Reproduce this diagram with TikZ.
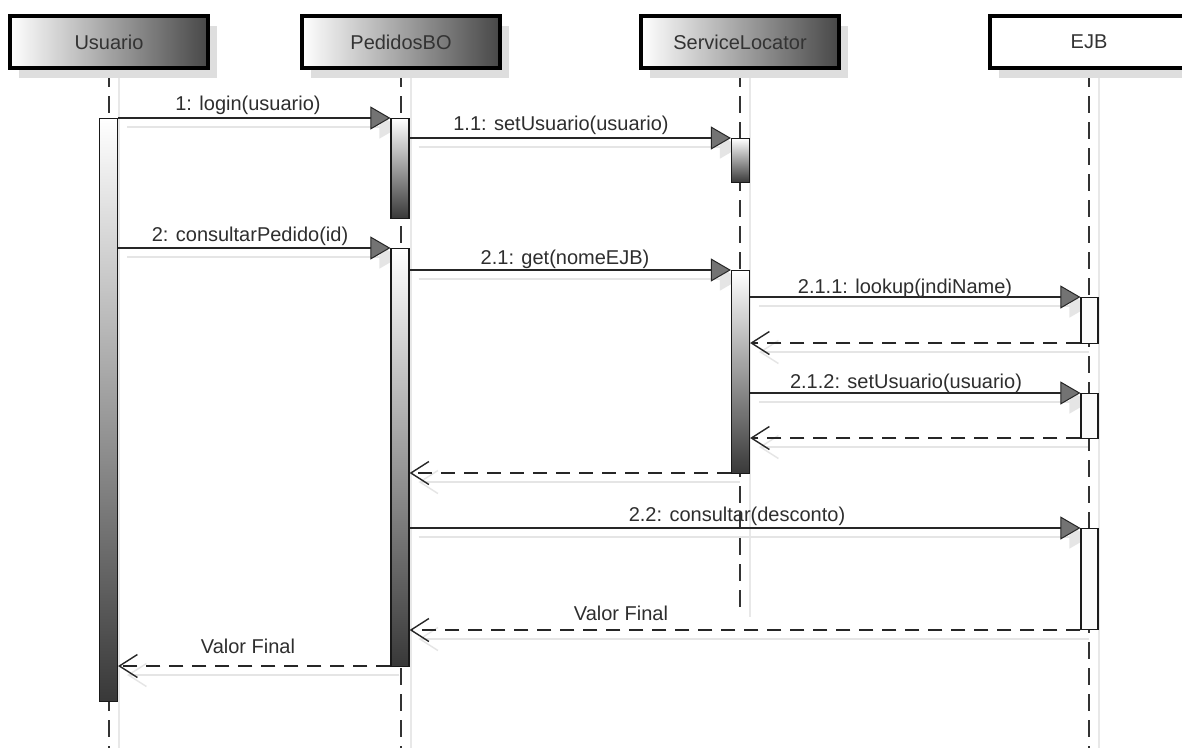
\documentclass[tikz,border=0pt]{standalone}
\usepackage{fontspec}
\setmainfont{Liberation Sans}
\usetikzlibrary{arrows.meta,shadows}
\pgfdeclarelayer{bgone}
\pgfdeclarelayer{bgtwo}
\pgfsetlayers{bgone,bgtwo,main}
\tikzset{
  lbl/.style={font=\fontsize{20}{24}\selectfont, text=black!82, inner sep=0pt, anchor=base},
  headbox/.style={draw=black, line width=4pt, minimum width=198pt, minimum height=52pt, inner sep=0pt,
    font=\fontsize{20}{24}\selectfont, text=black!80,
    drop shadow={shadow xshift=9pt, shadow yshift=-10pt, fill=black!13, opacity=1}},
  gradhead/.style={headbox, left color=white, right color=black!72},
  plainhead/.style={headbox, fill=white},
  lifeline/.style={draw=black!80, line width=1.6pt, dash pattern=on 17pt off 9pt},
  lifeshadow/.style={draw=black!9, line width=1.2pt, transform canvas={shift={(10pt,0pt)}}},
  actbar/.style={draw=black!90, line width=1.2pt, minimum width=18pt, inner sep=0pt, anchor=north,
    top color=white, bottom color=black!78},
  actwhite/.style={draw=black!90, line width=1.2pt, minimum width=17pt, inner sep=0pt, anchor=north, fill=black!2},
  callline/.style={draw=black!85, line width=1.4pt,
    -{Triangle[length=20pt,width=23pt,fill=black!55,line width=1pt]}},
  retline/.style={draw=black!85, line width=1.4pt, dash pattern=on 14pt off 9pt,
    -{Straight Barb[length=18pt,width=23pt,line width=1.4pt]}},
  callshadow/.style={draw=black!10, line width=1.4pt,
    -{Triangle[length=20pt,width=23pt,fill=black!10]}, transform canvas={shift={(9pt,-9pt)}}},
  retshadow/.style={draw=black!10, line width=1.4pt,
    -{Straight Barb[length=18pt,width=23pt]}, transform canvas={shift={(9pt,-9pt)}}},
}
\newcommand\callmsg[3]{%
  \begin{pgfonlayer}{bgone}\draw[callshadow] (#1 |- 0,#3) -- (#2 |- 0,#3);\end{pgfonlayer}
  \draw[callline] (#1 |- 0,#3) -- (#2 |- 0,#3);}
\newcommand\retmsg[3]{%
  \begin{pgfonlayer}{bgone}\draw[retshadow] (#1 |- 0,#3) -- (#2 |- 0,#3);\end{pgfonlayer}
  \draw[retline] (#1 |- 0,#3) -- (#2 |- 0,#3);}
\begin{document}
\begin{tikzpicture}[x=1pt,y=-1pt]
\useasboundingbox (0,0) rectangle (1182,748);
\clip (0,0) rectangle (1182,748);
\begin{pgfonlayer}{bgone}
  \fill[white] (0,0) rectangle (1182,748);
\end{pgfonlayer}

% heads
\node[gradhead] (u) at (109,42) {Usuario};
\node[gradhead] (p) at (401,42) {PedidosBO};
\node[gradhead] (s) at (740,42) {ServiceLocator};
\node[plainhead] (e) at (1089,42) {EJB};

% lifelines
\begin{pgfonlayer}{bgone}
  \draw[lifeshadow] (u.south) -- (u.south |- 0,748);
  \draw[lifeshadow] (p.south) -- (p.south |- 0,748);
  \draw[lifeshadow] (s.south) -- (s.south |- 0,617);
  \draw[lifeshadow] (e.south) -- (e.south |- 0,748);
\end{pgfonlayer}
\begin{pgfonlayer}{bgtwo}
  \draw[lifeline] (u.south) -- (u.south |- 0,748);
  \draw[lifeline] (p.south) -- (p.south |- 0,748);
  \draw[lifeline] (s.south) -- (s.south |- 0,612);
  \draw[lifeline] (e.south) -- (e.south |- 0,748);
\end{pgfonlayer}

% activation bars
\node[actbar, minimum height=583pt] (ua) at (108.5,118) {};
\node[actbar, minimum height=100pt] (pa1) at (400,118) {};
\node[actbar, minimum height=418pt] (pa2) at (400,248) {};
\node[actbar, minimum height=44pt] (sa1) at (740.5,138) {};
\node[actbar, minimum height=203pt] (sa2) at (740.5,270) {};
\node[actwhite, minimum height=46pt] (ea1) at (1089.5,297) {};
\node[actwhite, minimum height=45pt] (ea2) at (1089.5,393) {};
\node[actwhite, minimum height=101pt] (ea3) at (1089.5,528) {};

% messages
\callmsg{ua.east}{pa1.west}{118}
\callmsg{pa1.east}{sa1.west}{138}
\callmsg{ua.east}{pa2.west}{248}
\callmsg{pa2.east}{sa2.west}{270}
\callmsg{sa2.east}{ea1.west}{297}
\retmsg{ea1.west}{sa2.east}{343}
\callmsg{sa2.east}{ea2.west}{393}
\retmsg{ea2.west}{sa2.east}{438}
\retmsg{sa2.west}{pa2.east}{473}
\callmsg{pa2.east}{ea3.west}{528}
\retmsg{ea3.west}{pa2.east}{630}
\retmsg{pa2.west}{ua.east}{666}

% labels
\node[lbl] (l1) at (248,110) {1: login(usuario)};
\node[lbl] (l11) at (561,130) {1.1: setUsuario(usuario)};
\node[lbl] (l2) at (250,241) {2: consultarPedido(id)};
\node[lbl] (l21) at (565,264) {2.1: get(nomeEJB)};
\node[lbl] (l211) at (905,293) {2.1.1: lookup(jndiName)};
\node[lbl] (l212) at (906,388) {2.1.2: setUsuario(usuario)};
\node[lbl] (l22) at (737,521) {2.2: consultar(desconto)};
\node[lbl] (lr2) at (621,620) {Valor Final};
\node[lbl] (lr1) at (248,653) {Valor Final};
\end{tikzpicture}
\end{document}
